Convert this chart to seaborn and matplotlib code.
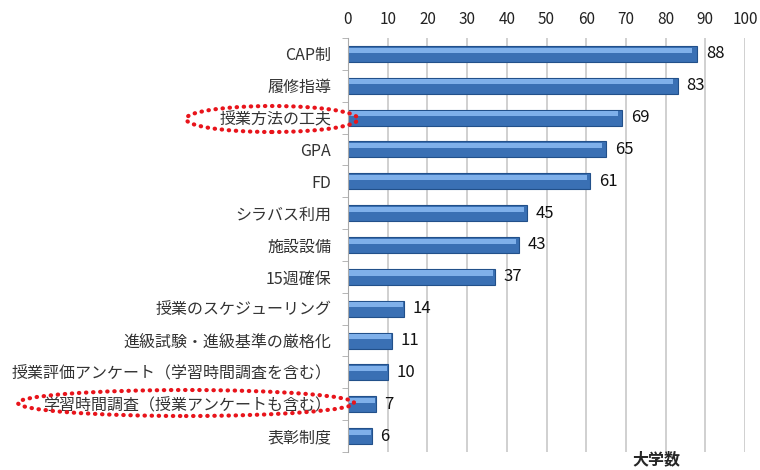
import numpy as np
import pandas as pd
import matplotlib
matplotlib.use("Agg")
import matplotlib.pyplot as plt
import seaborn as sns
from matplotlib.patches import Ellipse

categories = [
    "CAP制", "履修指導", "授業方法の工夫", "GPA", "FD", "シラバス利用", "施設設備",
    "15週確保", "授業のスケジューリング", "進級試験・進級基準の厳格化",
    "授業評価アンケート（学習時間調査を含む）", "学習時間調査（授業アンケートも含む）", "表彰制度",
]
counts = [88, 83, 69, 65, 61, 45, 43, 37, 14, 11, 10, 7, 6]
x_ticks = list(range(0, 101, 10))

df = pd.DataFrame({"item": categories, "n": counts})

sns.set_style("white")
plt.rcParams["font.family"] = ["Noto Sans CJK JP", "DejaVu Sans"]

fig = plt.figure(figsize=(7.6, 4.7), dpi=100)
ax = fig.add_axes([348 / 760, 1 - 452 / 470, 397 / 760, 414 / 470])

sns.barplot(data=df, y="item", x="n", orient="h", color="#3a70b4",
            edgecolor="#22508a", linewidth=0.8, width=0.5, saturation=1, ax=ax)
# lighter highlight strip for the glossy look
for p in ax.patches:
    x0, y0 = p.get_x(), p.get_y()
    w, h = p.get_width(), p.get_height()
    ax.add_patch(plt.Rectangle((x0, y0 + h * 0.1), w * 0.985, h * 0.32,
                               color="#7fb0ea", lw=0, zorder=p.get_zorder() + 0.1))

for i, v in enumerate(counts):
    ax.text(v + 2.2, i, str(v), va="center", ha="left", fontsize=12, color="#111111")

ax.set_xlim(0, 100)
ax.set_ylim(len(categories) - 0.5, -0.5)
ax.set_xticks(x_ticks)
ax.xaxis.tick_top()
ax.tick_params(axis="x", length=0, labelsize=11, colors="#222222", pad=7)
ax.set_yticks(range(len(categories)))
ax.set_yticklabels(categories, fontsize=11.5, color="#333333")
ax.tick_params(axis="y", length=0, pad=12)
ax.set_yticks(np.arange(-0.5, len(categories), 1), minor=True)
ax.tick_params(axis="y", which="minor", length=4, color="#aaaaaa", left=True)
ax.grid(axis="x", color="#c8c8c8", lw=1.2)
ax.set_axisbelow(True)
for s in ["top", "right", "bottom"]:
    ax.spines[s].set_visible(False)
ax.spines["left"].set_color("#aaaaaa")
ax.set_xlabel("")
ax.set_ylabel("")

fig.text(656 / 760, 1 - 459 / 470, "大学数", fontsize=11.5, fontweight="bold",
         ha="center", va="center")

for cx, cy, w, h in [(272, 119, 172, 26), (186, 403, 336, 26)]:
    fig.add_artist(Ellipse((cx / 760, 1 - cy / 470), w / 760, h / 470,
                           transform=fig.transFigure, fill=False, ec="#e8141b",
                           lw=3, ls=(0, (0.1, 1.6)), capstyle="round"))

fig.savefig("out.png", dpi=100)
